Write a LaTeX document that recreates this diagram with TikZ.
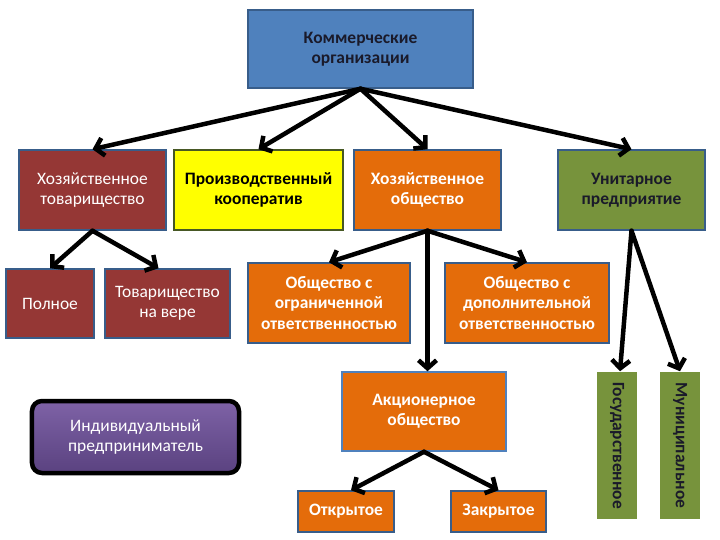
\documentclass[tikz,border=0pt]{standalone}
\usepackage{fontspec}
\setmainfont{Carlito}
\usetikzlibrary{arrows.meta}
\definecolor{cblue}{HTML}{4F81BD}
\definecolor{cred}{HTML}{953735}
\definecolor{cyel}{HTML}{FFFF00}
\definecolor{corange}{HTML}{E46C0A}
\definecolor{cgreen}{HTML}{77933C}
\definecolor{cborder}{HTML}{385D8A}
\definecolor{cpurpT}{HTML}{7E62A6}
\definecolor{cpurpB}{HTML}{5A4280}
\definecolor{cdark}{HTML}{1A1A2A}
\tikzset{
  box/.style={draw=cborder, line width=1.5bp, align=center, inner sep=2bp,
    font=\fontsize{17.5}{20.5}\selectfont},
  boldbox/.style={box, font=\fontsize{17.5}{20.5}\selectfont\bfseries},
  conn/.style={line width=4.5bp, -{Straight Barb[length=8bp,width=18bp]}, line cap=round, line join=round}
}
\begin{document}
\begin{tikzpicture}[x=1bp,y=-1bp]
\useasboundingbox (0,0) rectangle (720,540);
\fill[white] (0,0) rectangle (720,540);
% top
\node[boldbox, fill=cblue, text=cdark, minimum width=225bp, minimum height=78bp] (top) at (360.5,49) {Коммерческие\\организации};
% row 1
\node[box, fill=cred, text=white, minimum width=147bp, minimum height=80bp] (ht) at (92.5,190) {Хозяйственное\\товарищество};
\node[boldbox, draw=cgreen!60!black, fill=cyel, text=black, minimum width=169bp, minimum height=80bp] (pk) at (258.5,190) {Производственный\\кооператив};
\node[boldbox, fill=corange, text=white, minimum width=147bp, minimum height=80bp] (ho) at (427.5,190) {Хозяйственное\\общество};
\node[boldbox, fill=cgreen, text=cdark, minimum width=147bp, minimum height=80bp] (up) at (631.5,190) {Унитарное\\предприятие};
% row 2
\node[box, fill=cred, text=white, minimum width=88bp, minimum height=69bp] (pol) at (50,303.5) {Полное};
\node[box, fill=cred, text=white, minimum width=125bp, minimum height=69bp] (tv) at (167.5,303.5) {Товарищество\\на вере};
\node[boldbox, fill=corange, text=white, minimum width=162bp, minimum height=80bp] (ooo) at (329,303) {Общество с\\ограниченной\\ответственностью};
\node[boldbox, fill=corange, text=white, minimum width=164bp, minimum height=80bp] (odo) at (527,303) {Общество с\\дополнительной\\ответственностью};
% row 3
\node[boldbox, draw=cblue, fill=corange, text=white, minimum width=164bp, minimum height=79bp] (ao) at (424,411.5) {Акционерное\\общество};
\node[boldbox, fill=corange, text=white, minimum width=96bp, minimum height=41bp] (otk) at (346,511.5) {Открытое};
\node[boldbox, fill=corange, text=white, minimum width=95bp, minimum height=41bp] (zak) at (498.5,511.5) {Закрытое};
\node[boldbox, draw=none, fill=cgreen, minimum width=40bp, minimum height=147bp] (gos) at (617,445.5) {};
\node[boldbox, draw=none, fill=cgreen, minimum width=40bp, minimum height=147bp] (mun) at (680,445.5) {};
\node[font=\fontsize{17.5}{20.5}\selectfont\bfseries, text=cdark, rotate=-90] (gost) at (gos.center) {Государственное};
\node[font=\fontsize{17.5}{20.5}\selectfont\bfseries, text=cdark, rotate=-90] (munt) at (mun.center) {Муниципальное};
% individual entrepreneur
\node[draw=black, line width=4.5bp, rounded corners=10bp, top color=cpurpT, bottom color=cpurpB,
  text=white, align=center, font=\fontsize{17.5}{20.5}\selectfont, minimum width=207bp, minimum height=72bp] (ip) at (135.5,437) {Индивидуальный\\предприниматель};
% connectors
\draw[conn] (top.south) -- (ht.north);
\draw[conn] (top.south) -- (pk.north);
\draw[conn] (top.south) -- (ho.north);
\draw[conn] (top.south) -- (up.north);
\draw[conn] (ht.south) -- (pol.north);
\draw[conn] (ht.south) -- ([xshift=-9bp]tv.north);
\draw[conn] (ho.south) -- (ooo.north);
\draw[conn] (ho.south) -- (odo.north);
\draw[conn] (ho.south) -- (ho.south |- ao.north);
\draw[conn] (up.south) -- ([xshift=3bp]gos.north);
\draw[conn] (up.south) -- (mun.north);
\draw[conn] (ao.south) -- ([xshift=5bp]otk.north);
\draw[conn] (ao.south) -- (zak.north);
\end{tikzpicture}
\end{document}
